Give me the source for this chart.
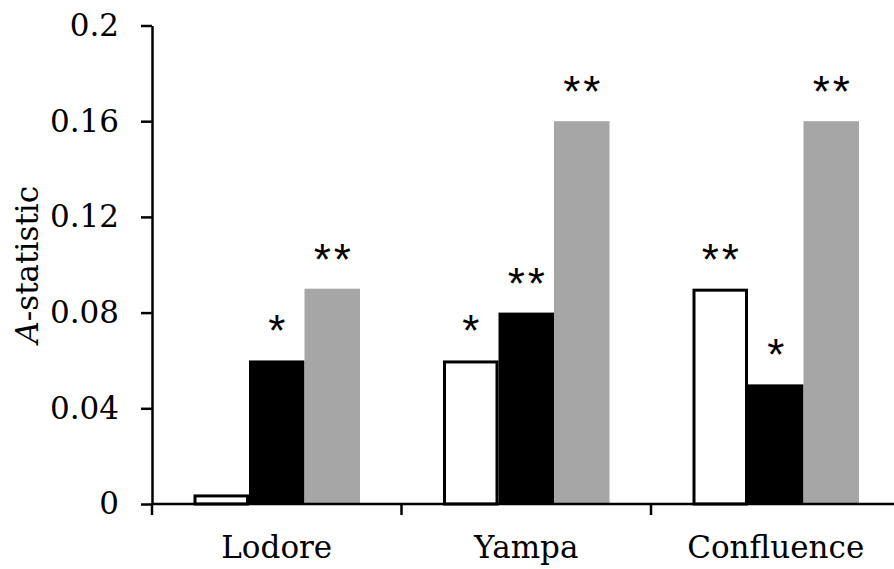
<!DOCTYPE html>
<html>
  <head>
    <meta charset="utf-8" />
    <script src="https://d3js.org/d3.v7.min.js"></script>
    <style>
      body {
        margin: 0px;
        background: white;
      }
    </style>
  </head>
  <body>
    <script>
      const sites = ['Lodore', 'Yampa', 'Confluence'];
      const series = ['white', 'black', 'gray'];
      const whiteValues = [0.004, 0.06, 0.09];
      const blackValues = [0.06, 0.08, 0.05];
      const grayValues = [0.09, 0.16, 0.16];
      const whiteStars = ['', '*', '**'];
      const blackStars = ['*', '**', '*'];
      const grayStars = ['**', '**', '**'];
      const yTicks = [0, 0.04, 0.08, 0.12, 0.16, 0.2];
      const yTickLabels = ['0', '0.04', '0.08', '0.12', '0.16', '0.2'];

      const serifFont = '"DejaVu Serif", "Liberation Serif", serif';
      const sansFont = '"Liberation Sans", Arial, sans-serif';
      const labelSize = '31px';

      const width = 894;
      const height = 569;
      const margin = { left: 152, top: 25.5, bottom: 65 };
      const plotRight = 900.5;

      const values = { white: whiteValues, black: blackValues, gray: grayValues };
      const stars = { white: whiteStars, black: blackStars, gray: grayStars };
      const fills = { white: '#ffffff', black: '#000000', gray: '#a6a6a6' };

      const data = [];
      sites.forEach((site, i) => {
        series.forEach((s) => {
          data.push({ site, series: s, value: values[s][i], star: stars[s][i] });
        });
      });

      const svg = d3
        .select('body')
        .append('svg')
        .attr('width', width)
        .attr('height', height);

      const x0 = d3
        .scaleBand()
        .domain(sites)
        .range([margin.left, plotRight])
        .padding(0);

      const x1 = d3
        .scaleBand()
        .domain(series)
        .range([41.5, x0.bandwidth() - 41.5])
        .padding(0);

      const y = d3
        .scaleLinear()
        .domain([0, 0.2])
        .range([height - margin.bottom, margin.top]);

      // bars
      svg
        .append('g')
        .selectAll('rect')
        .data(data)
        .join('rect')
        .attr('x', (d) => x0(d.site) + x1(d.series) + (d.series === 'white' ? 1.5 : 0))
        .attr('width', (d) => x1.bandwidth() - (d.series === 'white' ? 3 : 0))
        .attr('y', (d) => y(d.value) + (d.series === 'white' ? 1.5 : 0))
        .attr('height', (d) => y(0) - y(d.value) - (d.series === 'white' ? 1.5 : 0))
        .attr('fill', (d) => fills[d.series])
        .attr('stroke', (d) => (d.series === 'white' ? 'black' : 'none'))
        .attr('stroke-width', 3);

      // significance stars
      svg
        .append('g')
        .selectAll('text')
        .data(data.filter((d) => d.star))
        .join('text')
        .style('font-family', sansFont)
        .style('font-size', '44px')
        .style('letter-spacing', '3px')
        .attr('x', (d) => x0(d.site) + x1(d.series) + x1.bandwidth() / 2 + 1.5)
        .attr('y', (d) => y(d.value) - 14)
        .attr('text-anchor', 'middle')
        .text((d) => d.star);

      // y axis
      const yAxis = d3
        .axisLeft(y)
        .tickValues(yTicks)
        .tickFormat((d, i) => yTickLabels[i])
        .tickSize(11)
        .tickPadding(22)
        .tickSizeOuter(0);

      const yAxisG = svg
        .append('g')
        .attr('transform', `translate(${margin.left},0)`)
        .call(yAxis);
      yAxisG.selectAll('path, line').attr('stroke', 'black').attr('stroke-width', 2.5);
      yAxisG
        .selectAll('text')
        .attr('fill', 'black')
        .style('font-family', serifFont)
        .style('font-size', labelSize);

      // x axis line and category boundary ticks
      const baseY = y(0);
      svg
        .append('line')
        .attr('x1', margin.left)
        .attr('x2', width)
        .attr('y1', baseY)
        .attr('y2', baseY)
        .attr('stroke', 'black')
        .attr('stroke-width', 2.5);

      const boundaries = sites.map((s) => x0(s));
      svg
        .append('g')
        .selectAll('line')
        .data(boundaries)
        .join('line')
        .attr('x1', (d) => d)
        .attr('x2', (d) => d)
        .attr('y1', baseY)
        .attr('y2', baseY + 11)
        .attr('stroke', 'black')
        .attr('stroke-width', 2.5);

      svg
        .append('g')
        .selectAll('text')
        .data(sites)
        .join('text')
        .style('font-family', serifFont)
        .style('font-size', labelSize)
        .attr('x', (d) => x0(d) + x0.bandwidth() / 2)
        .attr('y', 558)
        .attr('text-anchor', 'middle')
        .text((d) => d);

      // y axis title
      const yTitle = svg
        .append('text')
        .style('font-family', serifFont)
        .style('font-size', labelSize)
        .attr('transform', `translate(38,${(y(0) + y(0.2)) / 2}) rotate(-90)`)
        .attr('text-anchor', 'middle');
      yTitle.append('tspan').style('font-style', 'italic').text('A');
      yTitle.append('tspan').text('-statistic');
    </script>
  </body>
</html>
